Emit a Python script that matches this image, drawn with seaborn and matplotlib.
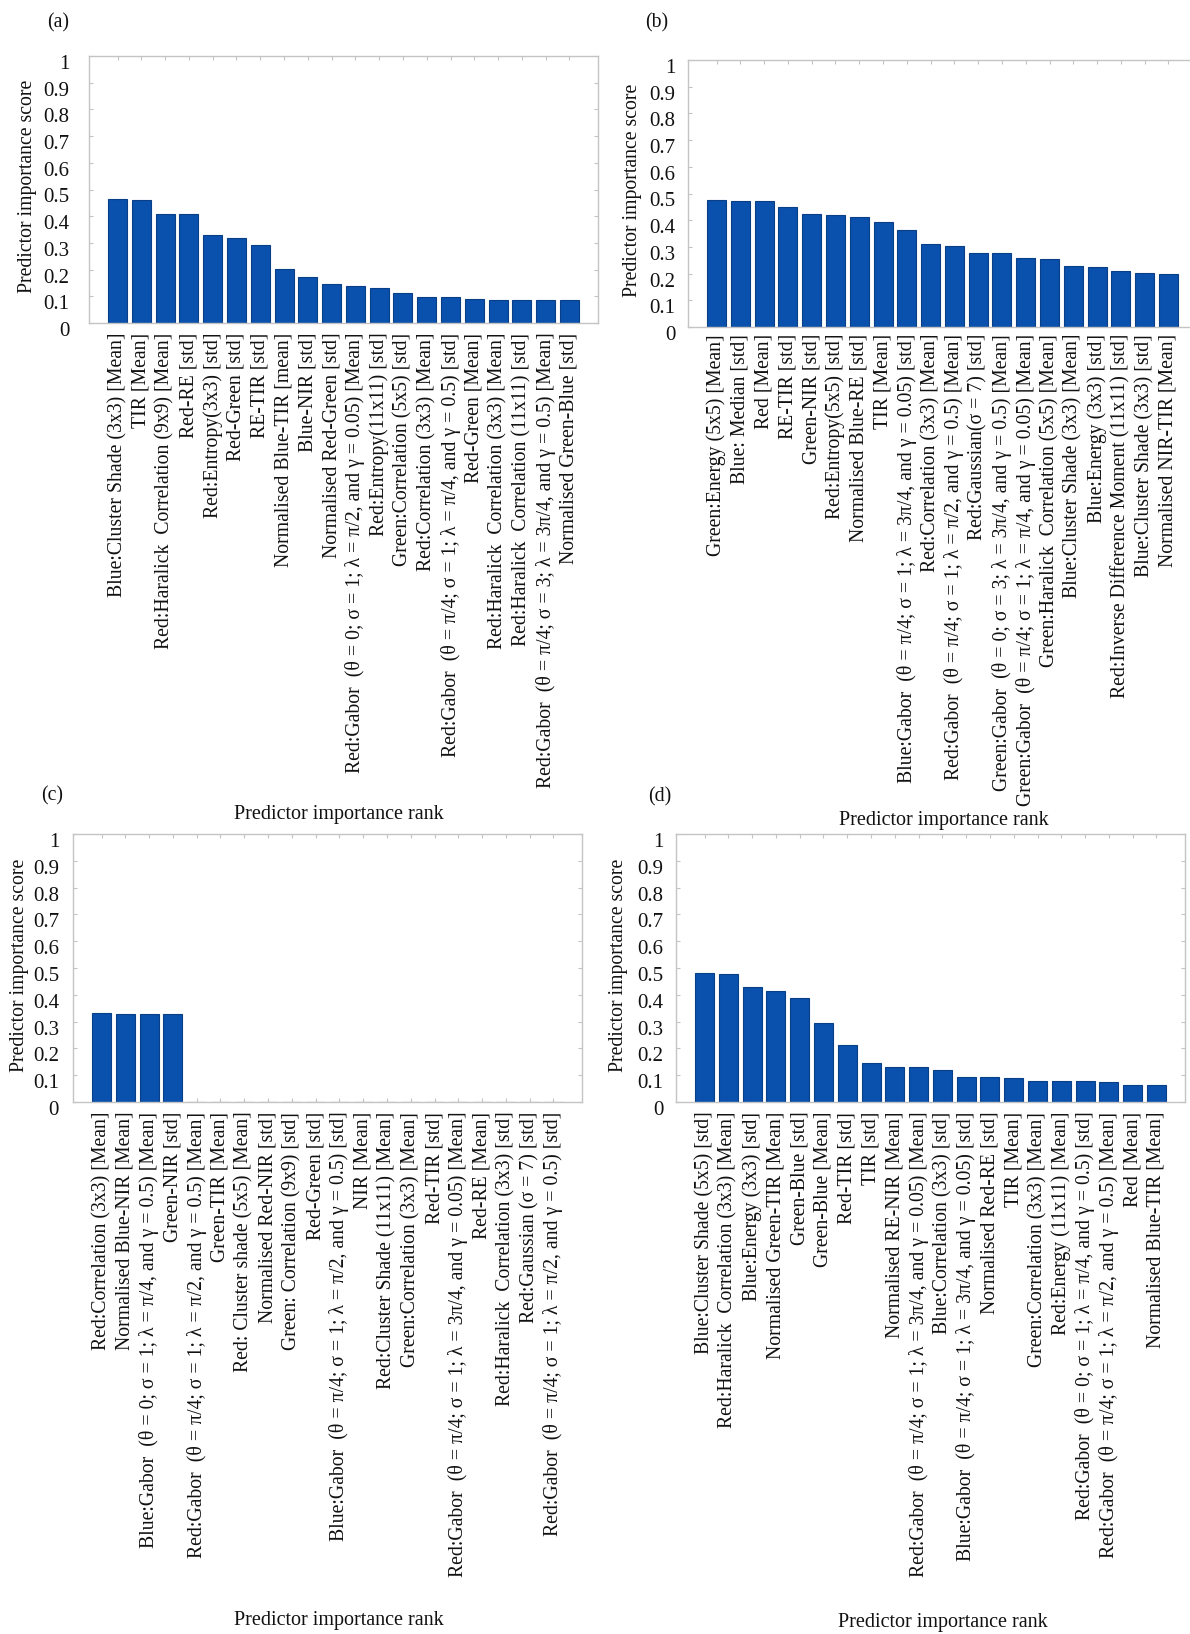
import matplotlib
matplotlib.use("Agg")
import matplotlib.pyplot as plt
import matplotlib.transforms as mtransforms
import numpy as np
import pandas as pd
import seaborn as sns

sns.set_theme(style="white")
plt.rcParams["font.family"] = ["Liberation Serif", "DejaVu Serif"]
plt.rcParams["mathtext.fontset"] = "stix"

# ---------------------------------------------------------------- data
labels_a = [
    "Blue:Cluster Shade (3x3) [Mean]",
    "TIR [Mean]",
    "Red:Haralick  Correlation (9x9) [Mean]",
    "Red-RE [std]",
    "Red:Entropy(3x3) [std]",
    "Red-Green [std]",
    "RE-TIR [std]",
    "Normalised Blue-TIR [mean]",
    "Blue-NIR [std]",
    "Normalised Red-Green [std]",
    "Red:Gabor  (θ = 0; σ = 1; λ = π/2, and γ = 0.05) [Mean]",
    "Red:Entropy(11x11) [std]",
    "Green:Correlation (5x5) [std]",
    "Red:Correlation (3x3) [Mean]",
    "Red:Gabor  (θ = π/4; σ = 1; λ = π/4, and γ = 0.5) [std]",
    "Red-Green [Mean]",
    "Red:Haralick  Correlation (3x3) [Mean]",
    "Red:Haralick  Correlation (11x11) [std]",
    "Red:Gabor  (θ = π/4; σ = 3; λ = 3π/4, and γ = 0.5) [Mean]",
    "Normalised Green-Blue [std]",
]
scores_a = [0.464, 0.461, 0.408, 0.408, 0.330, 0.320, 0.291, 0.203, 0.174, 0.145,
            0.138, 0.130, 0.114, 0.099, 0.098, 0.090, 0.088, 0.088, 0.088, 0.088]

labels_b = [
    "Green:Energy (5x5) [Mean]",
    "Blue: Median [std]",
    "Red [Mean]",
    "RE-TIR [std]",
    "Green-NIR [std]",
    "Red:Entropy(5x5) [std]",
    "Normalised Blue-RE [std]",
    "TIR [Mean]",
    "Blue:Gabor  (θ = π/4; σ = 1; λ = 3π/4, and γ = 0.05) [std]",
    "Red:Correlation (3x3) [Mean]",
    "Red:Gabor  (θ = π/4; σ = 1; λ = π/2, and γ = 0.5) [Mean]",
    "Red:Gaussian(σ = 7) [std]",
    "Green:Gabor  (θ = 0; σ = 3; λ = 3π/4, and γ = 0.5) [Mean]",
    "Green:Gabor  (θ = π/4; σ = 1; λ = π/4, and γ = 0.05) [Mean]",
    "Green:Haralick  Correlation (5x5) [Mean]",
    "Blue:Cluster Shade (3x3) [Mean]",
    "Blue:Energy (3x3) [std]",
    "Red:Inverse Difference Moment (11x11) [std]",
    "Blue:Cluster Shade (3x3) [std]",
    "Normalised NIR-TIR [Mean]",
]
scores_b = [0.476, 0.473, 0.473, 0.450, 0.423, 0.420, 0.413, 0.395, 0.364, 0.310,
            0.303, 0.278, 0.278, 0.257, 0.255, 0.227, 0.223, 0.208, 0.203, 0.198]

labels_c = [
    "Red:Correlation (3x3) [Mean]",
    "Normalised Blue-NIR [Mean]",
    "Blue:Gabor  (θ = 0; σ = 1; λ = π/4, and γ = 0.5) [Mean]",
    "Green-NIR [std]",
    "Red:Gabor  (θ = π/4; σ = 1; λ = π/2, and γ = 0.5) [Mean]",
    "Green-TIR [Mean]",
    "Red: Cluster shade (5x5) [Mean]",
    "Normalised Red-NIR [std]",
    "Green: Correlation (9x9) [std]",
    "Red-Green [std]",
    "Blue:Gabor  (θ = π/4; σ = 1; λ = π/2, and γ = 0.5) [std]",
    "NIR [Mean]",
    "Red:Cluster Shade (11x11) [Mean]",
    "Green:Correlation (3x3) [Mean]",
    "Red-TIR [std]",
    "Red:Gabor  (θ = π/4; σ = 1; λ = 3π/4, and γ = 0.05) [Mean]",
    "Red-RE [Mean]",
    "Red:Haralick  Correlation (3x3) [std]",
    "Red:Gaussian (σ = 7) [std]",
    "Red:Gabor  (θ = π/4; σ = 1; λ = π/2, and γ = 0.5) [std]",
]
scores_c = [0.332, 0.328, 0.328, 0.328, 0, 0, 0, 0, 0, 0,
            0, 0, 0, 0, 0, 0, 0, 0, 0, 0]

labels_d = [
    "Blue:Cluster Shade (5x5) [std]",
    "Red:Haralick  Correlation (3x3) [Mean]",
    "Blue:Energy (3x3) [std]",
    "Normalised Green-TIR [Mean]",
    "Green-Blue [std]",
    "Green-Blue [Mean]",
    "Red-TIR [std]",
    "TIR [std]",
    "Normalised RE-NIR [Mean]",
    "Red:Gabor  (θ = π/4; σ = 1; λ = 3π/4, and γ = 0.05) [Mean]",
    "Blue:Correlation (3x3) [std]",
    "Blue:Gabor  (θ = π/4; σ = 1; λ = 3π/4, and γ = 0.05) [std]",
    "Normalised Red-RE [std]",
    "TIR [Mean]",
    "Green:Correlation (3x3) [Mean]",
    "Red:Energy (11x11) [Mean]",
    "Red:Gabor  (θ = 0; σ = 1; λ = π/4, and γ = 0.5) [std]",
    "Red:Gabor  (θ = π/4; σ = 1; λ = π/2, and γ = 0.5) [Mean]",
    "Red [Mean]",
    "Normalised Blue-TIR [Mean]",
]
scores_d = [0.481, 0.479, 0.429, 0.413, 0.389, 0.293, 0.211, 0.146, 0.131, 0.131,
            0.121, 0.094, 0.094, 0.088, 0.079, 0.079, 0.078, 0.076, 0.064, 0.064]

panel_tags = ["(a)", "(b)", "(c)", "(d)"]
y_ticks = [0, 0.1, 0.2, 0.3, 0.4, 0.5, 0.6, 0.7, 0.8, 0.9, 1]
y_tick_labels = ["0", "0.1", "0.2", "0.3", "0.4", "0.5", "0.6", "0.7", "0.8", "0.9", "1"]

# ---------------------------------------------------------------- layout
W, H = 1190, 1634
fig = plt.figure(figsize=(W / 100, H / 100), dpi=100)
fig.patch.set_facecolor("white")


def box(left, top, right, bottom):
    return [left / W, 1 - bottom / H, (right - left) / W, (bottom - top) / H]


panels = [
    dict(labels=labels_a, scores=scores_a, rect=box(89, 56, 598, 323),
         ypad=14, xpad=7, ylab_x=-0.121, xlab=(339, 815), tag=(47, 23)),
    dict(labels=labels_b, scores=scores_b, rect=box(688, 60, 1197, 327),
         ypad=9, xpad=5, ylab_x=-0.110, xlab=(944, 821), tag=(645, 23)),
    dict(labels=labels_c, scores=scores_c, rect=box(73, 834, 582, 1102),
         ypad=10, xpad=7, ylab_x=-0.106, xlab=(339, 1620), tag=(41, 796)),
    dict(labels=labels_d, scores=scores_d, rect=box(676, 834, 1185, 1102),
         ypad=9, xpad=7, ylab_x=-0.112, xlab=(943, 1623), tag=(648, 797)),
]

bar_color = "#0a50ad"
edge_color = "#083f86"
frame_color = "#c4c4c4"
fs = 14.2

for tag, p in zip(panel_tags, panels):
    ax = fig.add_axes(p["rect"])
    df = pd.DataFrame({"rank": np.arange(len(p["scores"])), "score": p["scores"]})
    sns.barplot(data=df, x="rank", y="score", ax=ax, color=bar_color,
                saturation=1, width=0.8, edgecolor=edge_color, linewidth=0.8)
    ax.set_xlim(-1.2, len(p["scores"]) - 1 + 1.2)
    ax.set_ylim(0, 1)
    ax.set_xticks(np.arange(len(p["labels"])))
    ax.set_xticklabels(p["labels"], rotation=90, ha="center", va="top", fontsize=fs)
    ax.set_yticks(y_ticks)
    ax.set_yticklabels(y_tick_labels, fontsize=fs + 0.8)
    ax.tick_params(axis="both", direction="in", length=3, width=0.8,
                   color=frame_color, top=True, right=True, bottom=True, left=True)
    ax.tick_params(axis="y", pad=p["ypad"], labelcolor="#111111")
    ax.tick_params(axis="x", pad=p["xpad"], labelcolor="#111111")
    for spine in ax.spines.values():
        spine.set_color(frame_color)
        spine.set_linewidth(1.0)
    ax.set_xlabel("")
    ax.set_ylabel("Predictor importance score", fontsize=fs, color="#111111")
    ax.yaxis.set_label_coords(p["ylab_x"], 0.51)
    ax.yaxis.label.set_va("center")
    # tick labels sit slightly below their ticks
    shift = mtransforms.ScaledTranslation(0, -6 / 100, fig.dpi_scale_trans)
    for t in ax.yaxis.get_major_ticks():
        t.label1.set_transform(t.label1.get_transform() + shift)
    fig.text(p["xlab"][0] / W, 1 - p["xlab"][1] / H, "Predictor importance rank",
             ha="center", va="center", fontsize=fs + 0.3, color="#111111")
    fig.text(p["tag"][0] / W, 1 - p["tag"][1] / H, tag,
             ha="left", va="center", fontsize=fs, color="#111111")

fig.savefig("out.png", dpi=100, facecolor="white")
